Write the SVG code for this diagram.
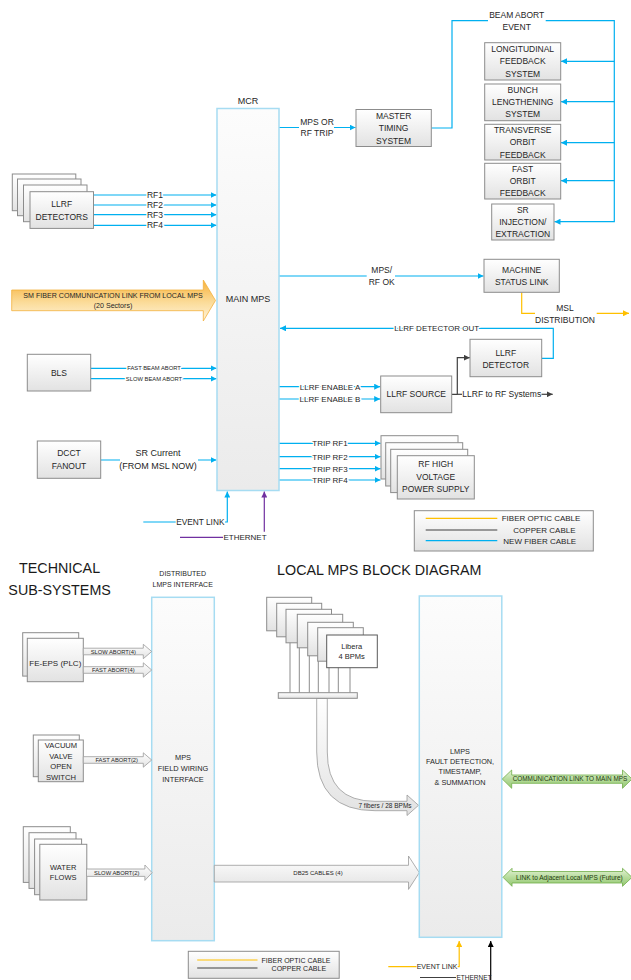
<svg xmlns="http://www.w3.org/2000/svg" width="631" height="980" viewBox="0 0 631 980">
<style>
text{font-family:"Liberation Sans",Arial,sans-serif;fill:#262626;}
.c{text-anchor:middle;}
.s{text-anchor:start;}
.f85{font-size:8.5px;}
.f8{font-size:8px;}
.f9{font-size:9px;}
.f7{font-size:7px;}
.f6{font-size:5.8px;}
.h{paint-order:stroke;stroke:#fff;stroke-width:3px;stroke-linejoin:round;}
.box{fill:url(#gBox);stroke:#8c8c8c;stroke-width:1;}
.wbox{fill:#fff;stroke:#595959;stroke-width:1;}
.big{fill:url(#gMain);stroke:#a6dcf2;stroke-width:1.5;}
.blk{fill:url(#gBox);stroke:#9a9a9a;stroke-width:0.8;}
.b{fill:none;stroke:#00b0f0;stroke-width:1.2;}
.y{fill:none;stroke:#ffc000;stroke-width:1.2;}
.d{fill:none;stroke:#404040;stroke-width:1.2;}
.k{fill:none;stroke:#000;stroke-width:1.2;}
.p{fill:none;stroke:#7030a0;stroke-width:1.2;}
.g{fill:none;stroke:#8c8c8c;stroke-width:1;}
.grn{fill:url(#gGreen);stroke:#70ad47;stroke-width:0.8;}
.org{fill:url(#gOrange);stroke:#f2b13d;stroke-width:0.8;}
.head{font-size:14.3px;fill:#1a1a1a;}
</style>
<defs>
<linearGradient id="gBox" x1="0" y1="0" x2="0" y2="1"><stop offset="0" stop-color="#ffffff"/><stop offset="1" stop-color="#e2e2e2"/></linearGradient>
<linearGradient id="gMain" x1="0" y1="0" x2="0" y2="1"><stop offset="0" stop-color="#fcfcfc"/><stop offset="1" stop-color="#ebebeb"/></linearGradient>
<linearGradient id="gOrange" x1="0" y1="0" x2="0" y2="1"><stop offset="0" stop-color="#f7b13a"/><stop offset="0.55" stop-color="#fbdc9a"/><stop offset="1" stop-color="#fff3d9"/></linearGradient>
<linearGradient id="gGreen" x1="0" y1="0" x2="0" y2="1"><stop offset="0" stop-color="#e4f2d8"/><stop offset="0.5" stop-color="#b7dc9c"/><stop offset="1" stop-color="#93c672"/></linearGradient>
<marker id="aB" markerUnits="userSpaceOnUse" markerWidth="7" markerHeight="6" refX="6" refY="3" orient="auto"><path d="M0,0 L6,3 L0,6 Z" fill="#00b0f0"/></marker>
<marker id="aD" markerUnits="userSpaceOnUse" markerWidth="7" markerHeight="6" refX="6" refY="3" orient="auto"><path d="M0,0 L6,3 L0,6 Z" fill="#404040"/></marker>
<marker id="aY" markerUnits="userSpaceOnUse" markerWidth="7" markerHeight="6" refX="6" refY="3" orient="auto"><path d="M0,0 L6,3 L0,6 Z" fill="#ffc000"/></marker>
<marker id="aP" markerUnits="userSpaceOnUse" markerWidth="7" markerHeight="6" refX="6" refY="3" orient="auto"><path d="M0,0 L6,3 L0,6 Z" fill="#7030a0"/></marker>
<marker id="aK" markerUnits="userSpaceOnUse" markerWidth="7" markerHeight="6" refX="6" refY="3" orient="auto"><path d="M0,0 L6,3 L0,6 Z" fill="#000"/></marker>
</defs>
<rect width="631" height="980" fill="#fff"/>

<!-- ============ CONNECTORS ============ -->
<g id="connectors">
  <path class="b" d="M279,127.5 H299 M334,127.5 H355.5" marker-end="url(#aB)"/>
  <path class="b" d="M431.3,128 H452 V20.7 H488 M545.7,20.7 H614.3 V221.7 H554.5" marker-end="url(#aB)"/>
  <path class="b" d="M614.3,61.3 H561" marker-end="url(#aB)"/>
  <path class="b" d="M614.3,101.7 H561" marker-end="url(#aB)"/>
  <path class="b" d="M614.3,142.7 H561" marker-end="url(#aB)"/>
  <path class="b" d="M614.3,180.7 H561" marker-end="url(#aB)"/>
  <path class="b" d="M93.5,195 H216.5" marker-end="url(#aB)"/>
  <path class="b" d="M93.5,205 H216.5" marker-end="url(#aB)"/>
  <path class="b" d="M93.5,214.7 H216.5" marker-end="url(#aB)"/>
  <path class="b" d="M93.5,225.3 H216.5" marker-end="url(#aB)"/>
  <path class="b" d="M90.7,368.3 H216.5" marker-end="url(#aB)"/>
  <path class="b" d="M90.7,378.7 H216.5" marker-end="url(#aB)"/>
  <path class="b" d="M100.7,460 H120 M198,460 H216.5" marker-end="url(#aB)"/>
  <path class="b" d="M143.3,522 H175.7 M225,522 H227.3 V491.5" marker-end="url(#aB)"/>
  <path class="p" d="M180,537.3 H223 M264.3,531.7 V491.5" marker-end="url(#aP)"/>
  <path class="b" d="M279,276 H366.7 M395,276 H483.5" marker-end="url(#aB)"/>
  <path class="y" d="M521.7,292.3 V313.3 H535 M596.7,313.3 H629" marker-end="url(#aY)"/>
  <path class="b" d="M541.7,358.3 H553.3 V328.3 H280" marker-end="url(#aB)"/>
  <path class="b" d="M279,386.7 H380.2" marker-end="url(#aB)"/>
  <path class="b" d="M279,399 H380.2" marker-end="url(#aB)"/>
  <path class="d" d="M451.7,394.3 H457.3 V357.7 H469.8" marker-end="url(#aD)"/>
  <path class="d" d="M457.3,394.3 H462"/>
  <path class="d" d="M541.5,394.3 H552.7" marker-end="url(#aD)"/>
  <path class="b" d="M279,443.3 H380.5" marker-end="url(#aB)"/>
  <path class="b" d="M279,456.7 H380.5" marker-end="url(#aB)"/>
  <path class="b" d="M279,468.7 H380.5" marker-end="url(#aB)"/>
  <path class="b" d="M279,480 H380.5" marker-end="url(#aB)"/>
  <path class="g" d="M290,628 V692.7 M299.3,634 V692.7 M309.3,640 V692.7 M318.3,645 V692.7 M329,660 V692.7 M338.3,660 V692.7 M350,660 V692.7"/>
  <path class="y" d="M388.3,966.7 H416.5 M457.7,966.7 H459.2 V941" marker-end="url(#aY)"/>
  <path class="d" d="M420,977.5 H456"/>
  <path class="k" d="M490.7,981 V941" marker-end="url(#aK)"/>
</g>

<!-- ============ TOP NODES ============ -->
<g id="main-mps">
  <text class="c f9" x="248" y="104">MCR</text>
  <rect class="big" x="217" y="108.5" width="62" height="382"/>
  <text class="c f9" x="248" y="302">MAIN MPS</text>
</g>
<g id="conn-labels">
  <text class="c f85" x="317" y="125">MPS OR</text>
  <text class="c f85" x="317" y="136">RF TRIP</text>
  <text class="c f85" x="516.7" y="17.7">BEAM ABORT</text>
  <text class="c f85" x="516.7" y="29.7">EVENT</text>
  <text class="c f85 h" x="155" y="198">RF1</text>
  <text class="c f85 h" x="155" y="208">RF2</text>
  <text class="c f85 h" x="155" y="217.7">RF3</text>
  <text class="c f85 h" x="155" y="228.3">RF4</text>
  <text class="c f6 h" x="154" y="370.3">FAST BEAM ABORT</text>
  <text class="c f6 h" x="154" y="380.7">SLOW BEAM ABORT</text>
  <text class="c f9" x="158" y="456">SR Current</text>
  <text class="c f9" x="158" y="468.7">(FROM MSL NOW)</text>
  <text class="c" style="font-size:8.3px" x="200.3" y="525">EVENT LINK</text>
  <text class="c f8" x="245" y="540.3">ETHERNET</text>
  <text class="c f85" x="381.7" y="273">MPS/</text>
  <text class="c f85" x="381.7" y="285.3">RF OK</text>
  <text class="c f85" x="565" y="310.7">MSL</text>
  <text class="c f85" x="565" y="323">DISTRIBUTION</text>
  <text class="c f8 h" x="436.7" y="331.2">LLRF DETECTOR OUT</text>
  <text class="c f8 h" x="330" y="389.6">LLRF ENABLE A</text>
  <text class="c f8 h" x="330" y="401.9">LLRF ENABLE B</text>
  <text class="s f85" x="462.3" y="397.3">LLRF to RF Systems</text>
  <text class="c f8 h" x="330" y="446.2">TRIP RF1</text>
  <text class="c f8 h" x="330" y="459.6">TRIP RF2</text>
  <text class="c f8 h" x="330" y="471.6">TRIP RF3</text>
  <text class="c f8 h" x="330" y="482.9">TRIP RF4</text>
</g>
<g id="master-timing">
  <rect class="box" x="356" y="109.5" width="75.3" height="37"/>
  <text class="c f85" x="393.6" y="118.5">MASTER</text>
  <text class="c f85" x="393.6" y="131">TIMING</text>
  <text class="c f85" x="393.6" y="143.5">SYSTEM</text>
</g>
<g id="longitudinal">
  <rect class="box" x="484.7" y="42.7" width="76" height="37.3"/>
  <text class="c f85" x="522.7" y="51.7">LONGITUDINAL</text>
  <text class="c f85" x="522.7" y="64.3">FEEDBACK</text>
  <text class="c f85" x="522.7" y="76.7">SYSTEM</text>
</g>
<g id="bunch">
  <rect class="box" x="484.7" y="84" width="76" height="36.7"/>
  <text class="c f85" x="522.7" y="93">BUNCH</text>
  <text class="c f85" x="522.7" y="104.7">LENGTHENING</text>
  <text class="c f85" x="522.7" y="117.3">SYSTEM</text>
</g>
<g id="transverse">
  <rect class="box" x="484.7" y="124.3" width="76" height="35.7"/>
  <text class="c f85" x="522.7" y="132.7">TRANSVERSE</text>
  <text class="c f85" x="522.7" y="145">ORBIT</text>
  <text class="c f85" x="522.7" y="157.7">FEEDBACK</text>
</g>
<g id="fast-orbit">
  <rect class="box" x="484.7" y="163.3" width="76" height="35.7"/>
  <text class="c f85" x="522.7" y="171.7">FAST</text>
  <text class="c f85" x="522.7" y="184">ORBIT</text>
  <text class="c f85" x="522.7" y="196.3">FEEDBACK</text>
</g>
<g id="sr-injection">
  <rect class="box" x="491.7" y="204" width="62.3" height="36"/>
  <text class="c f85" x="522.8" y="213">SR</text>
  <text class="c f85" x="522.8" y="225">INJECTION/</text>
  <text class="c f85" x="522.8" y="237">EXTRACTION</text>
</g>
<g id="llrf-detectors">
  <rect class="box" x="12.3" y="174" width="63.5" height="36.7"/>
  <rect class="box" x="17.5" y="179" width="63.5" height="36.7"/>
  <rect class="box" x="23.5" y="185" width="63.5" height="36.7"/>
  <rect class="box" x="30" y="191.7" width="63.5" height="36.7"/>
  <text class="c f85" x="61.7" y="207">LLRF</text>
  <text class="c f85" x="61.7" y="219.7">DETECTORS</text>
</g>
<g id="sm-fiber">
  <path class="org" d="M11.7,290 H203.3 V280 L215.5,300.5 L203.3,321 V310.7 H11.7 Z"/>
  <text class="c" style="font-size:7.1px" x="113" y="298.2">SM FIBER COMMUNICATION LINK FROM LOCAL MPS</text>
  <text class="c" style="font-size:7.1px" x="113" y="308.2">(20 Sectors)</text>
</g>
<g id="bls">
  <rect class="box" x="27.3" y="354.3" width="63.4" height="36.7"/>
  <text class="c f85" x="59" y="376">BLS</text>
</g>
<g id="dcct">
  <rect class="box" x="37.3" y="441" width="63.4" height="37.3"/>
  <text class="c f85" x="69" y="456">DCCT</text>
  <text class="c f85" x="69" y="468.7">FANOUT</text>
</g>
<g id="machine-status-link">
  <rect class="box" x="484" y="259.3" width="75.3" height="33"/>
  <text class="c f85" x="521.7" y="272.5">MACHINE</text>
  <text class="c f85" x="521.7" y="285">STATUS LINK</text>
</g>
<g id="llrf-detector">
  <rect class="box" x="470" y="339.3" width="71.7" height="37.4"/>
  <text class="c f85" x="505.8" y="355.7">LLRF</text>
  <text class="c f85" x="505.8" y="368">DETECTOR</text>
</g>
<g id="llrf-source">
  <rect class="box" x="380.7" y="376" width="71" height="36.7"/>
  <text class="c f85" x="416.2" y="397.3">LLRF SOURCE</text>
</g>
<g id="rf-hv">
  <rect class="box" x="381" y="435.7" width="77" height="43.3"/>
  <rect class="box" x="385.7" y="442.7" width="77" height="43.3"/>
  <rect class="box" x="390.7" y="449.3" width="77" height="43.3"/>
  <rect class="box" x="397.3" y="455.7" width="77" height="43.3"/>
  <text class="c f85" x="435.8" y="467.3">RF HIGH</text>
  <text class="c f85" x="435.8" y="480">VOLTAGE</text>
  <text class="c f85" x="435.8" y="492.3">POWER SUPPLY</text>
</g>
<g id="legend-top">
  <rect class="box" x="414.3" y="510.7" width="179" height="40.3"/>
  <path class="y" d="M425.7,518.3 H497.3"/>
  <path class="d" d="M425.7,530 H497.3"/>
  <path class="b" d="M425.7,540.7 H497.3"/>
  <text class="s f8" x="501.7" y="521.2">FIBER OPTIC CABLE</text>
  <text class="s f8" x="513.3" y="532.9">COPPER CABLE</text>
  <text class="s f8" x="503.3" y="543.6">NEW FIBER CABLE</text>
</g>

<!-- ============ BOTTOM NODES ============ -->
<g id="headings">
  <text class="c head" x="59.6" y="573.3">TECHNICAL</text>
  <text class="c head" x="59.6" y="595">SUB-SYSTEMS</text>
  <text class="c head" x="379.3" y="575">LOCAL MPS BLOCK DIAGRAM</text>
  <text class="c f7" x="182.7" y="575.8">DISTRIBUTED</text>
  <text class="c f7" x="182.7" y="586.8">LMPS INTERFACE</text>
</g>
<g id="mps-field-wiring">
  <rect class="big" x="151.7" y="597.3" width="62.6" height="343.4"/>
  <text class="c" style="font-size:7.4px" x="183" y="760.4">MPS</text>
  <text class="c" style="font-size:7.4px" x="183" y="771">FIELD WIRING</text>
  <text class="c" style="font-size:7.4px" x="183" y="782">INTERFACE</text>
</g>
<g id="fe-eps">
  <rect class="box" x="22.7" y="632.7" width="56" height="43.4"/>
  <rect class="box" x="27.3" y="638.3" width="56" height="43.4"/>
  <text class="c f8" x="55.3" y="665.5">FE-EPS (PLC)</text>
</g>
<g id="vacuum">
  <rect class="box" x="33.3" y="735" width="46" height="41.7"/>
  <rect class="box" x="38.3" y="740" width="45" height="41.7"/>
  <text class="c" style="font-size:7.6px" x="61" y="748.4">VACUUM</text>
  <text class="c" style="font-size:7.6px" x="61" y="758.7">VALVE</text>
  <text class="c" style="font-size:7.6px" x="61" y="769.4">OPEN</text>
  <text class="c" style="font-size:7.6px" x="61" y="780">SWITCH</text>
</g>
<g id="water-flows">
  <rect class="box" x="23.3" y="826.7" width="47" height="55.7"/>
  <rect class="box" x="29" y="832.7" width="47" height="55.7"/>
  <rect class="box" x="34.6" y="839" width="47" height="55.7"/>
  <rect class="box" x="39.8" y="844.3" width="47" height="55.7"/>
  <text class="c" style="font-size:7.5px" x="63.2" y="870">WATER</text>
  <text class="c" style="font-size:7.5px" x="63.2" y="880.4">FLOWS</text>
</g>
<g id="block-arrows">
  <path class="blk" d="M83.3,648.2 H143.3 V644.3 L151.7,651.5 L143.3,658.7 V654.8 H83.3 Z"/>
  <text class="c f6" x="113.3" y="653.6">SLOW ABORT(4)</text>
  <path class="blk" d="M83.3,666.7 H143.3 V662.8 L151.7,670 L143.3,677.2 V673.3 H83.3 Z"/>
  <text class="c f6" x="113.3" y="672.1">FAST ABORT(4)</text>
  <path class="blk" d="M83.3,756.7 H143.3 V752.8 L151.7,760 L143.3,767.2 V763.3 H83.3 Z"/>
  <text class="c f6" x="116.7" y="762.1">FAST ABORT(2)</text>
  <path class="blk" d="M86.5,869 H144.9 V865 L152.1,872.7 L144.9,880.4 V876.4 H86.5 Z"/>
  <text class="c f6" x="116.7" y="874.8">SLOW ABORT(2)</text>
  <path class="blk" d="M214.3,865.3 H408.5 V856 L419.3,872.7 L408.5,889.4 V882 H214.3 Z"/>
  <text class="c" style="font-size:6px" x="318" y="875.4">DB25 CABLES (4)</text>
  <path class="blk" d="M316.7,698.3 V752 Q316.7,810.7 375,810.7 H407 V815.5 L418.5,805.3 L407,795 V801.3 H375 Q327.3,801.3 327.3,752 V698.3 Z"/>
  <text class="c" style="font-size:6.5px" x="385" y="807.6">7 fibers / 28 BPMs</text>
</g>
<g id="libera">
  <rect class="box" x="266.7" y="597.3" width="45" height="33.5"/>
  <rect class="box" x="276.7" y="603.3" width="45" height="33.5"/>
  <rect class="box" x="286" y="609.3" width="45.5" height="33.5"/>
  <rect class="box" x="297.3" y="614.3" width="45.4" height="33.5"/>
  <rect class="box" x="307.7" y="622.3" width="45.6" height="33.5"/>
  <rect class="box" x="317.7" y="627.7" width="45.6" height="33.5"/>
  <rect class="wbox" x="326.7" y="635" width="50.6" height="32.7"/>
  <text class="c" style="font-size:7.5px" x="351.7" y="649.3">Libera</text>
  <text class="c" style="font-size:7.5px" x="351.7" y="659.3">4 BPMs</text>
  <rect class="box" x="278.3" y="692.7" width="79" height="5.6"/>
</g>
<g id="lmps">
  <rect class="big" x="419.3" y="596" width="82.5" height="341.3"/>
  <text class="c" style="font-size:7.3px" x="460" y="753.6">LMPS</text>
  <text class="c" style="font-size:7.3px" x="460" y="764.3">FAULT DETECTION,</text>
  <text class="c" style="font-size:7.3px" x="460" y="774.3">TIMESTAMP,</text>
  <text class="c" style="font-size:7.3px" x="460" y="785.3">&amp; SUMMATION</text>
</g>
<g id="comm-link">
  <path class="grn" d="M502.3,779 L511.7,770 V775 H622.5 V770 L632,779 L622.5,788.3 V783.3 H511.7 V788.3 Z"/>
  <text class="c" style="font-size:6.4px;fill:#1e3a0e" x="570" y="781.3">COMMUNICATION LINK TO MAIN MPS</text>
</g>
<g id="adjacent-link">
  <path class="grn" d="M503,877.3 L512,868.3 V871.5 H622.5 V868.3 L632,877.3 L622.5,886.3 V883 H512 V886.3 Z"/>
  <text class="c" style="font-size:6.5px;fill:#1e3a0e" x="569.4" y="879.6">LINK to Adjacent Local MPS (Future)</text>
</g>
<g id="legend-bottom">
  <rect class="box" x="188.3" y="951.3" width="150.9" height="27"/>
  <path class="y" d="M197.2,960 H257.5"/>
  <path class="d" d="M197.2,968 H257.5"/>
  <text class="s f7" x="261.6" y="962.5">FIBER OPTIC CABLE</text>
  <text class="s f7" x="271.6" y="970.5">COPPER CABLE</text>
</g>
<g id="bottom-labels">
  <text class="s f7" x="416.7" y="969.2">EVENT LINK</text>
  <text class="s" style="font-size:6.5px" x="456.5" y="979.5">ETHERNET</text>
</g>
</svg>
